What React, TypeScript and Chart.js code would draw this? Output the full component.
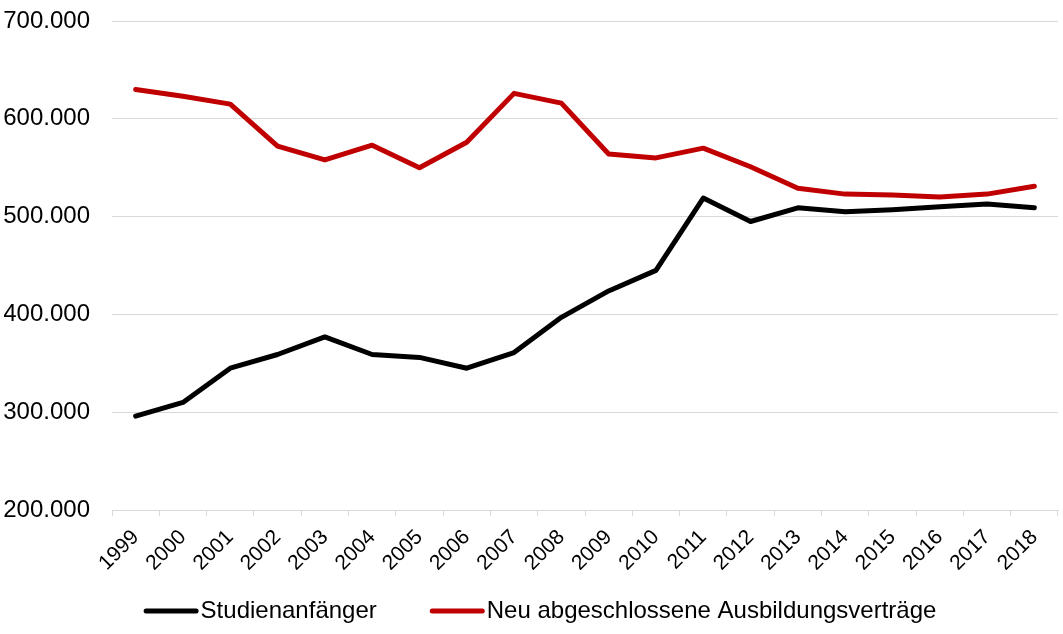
import React, { useEffect, useRef } from "react";
import { Chart, registerables } from "chart.js";

Chart.register(...registerables);

const years = ["1999","2000","2001","2002","2003","2004","2005","2006","2007","2008","2009","2010","2011","2012","2013","2014","2015","2016","2017","2018"];
const studienanfaenger = [296000, 310000, 345000, 359000, 377000, 359000, 356000, 345000, 361000, 397000, 424000, 445000, 519000, 495000, 509000, 505000, 507000, 510000, 513000, 509000];
const ausbildungsvertraege = [630000, 623000, 615000, 572000, 558000, 573000, 550000, 576000, 626000, 616000, 564000, 560000, 570000, 551000, 529000, 523000, 522000, 520000, 523000, 531000];
const seriesNames = ["Studienanfänger", "Neu abgeschlossene Ausbildungsverträge"];
const seriesColors = ["#000000", "#c00000"];

const W = 1063;
const H = 634;
const FONT = "'Liberation Sans', Arial, sans-serif";

const fmt = (v: number) => {
  const s = Math.round(v).toString();
  return s.replace(/\B(?=(\d{3})+(?!\d))/g, ".");
};

const legendPlugin = {
  id: "customLegend",
  afterDraw(chart: any) {
    const ctx = chart.ctx;
    ctx.save();
    ctx.font = `24px ${FONT}`;
    ctx.textBaseline = "middle";
    ctx.textAlign = "left";
    const lineLen = 55;
    const gap = 2;
    const itemGap = 53;
    const items = chart.data.datasets.map((d: any) => ({
      label: d.label,
      color: d.borderColor,
      w: ctx.measureText(d.label).width,
    }));
    const total = items.reduce((a: number, it: any) => a + lineLen + gap + it.w, 0) + itemGap * (items.length - 1);
    let x = 540 - total / 2;
    const y = 611;
    items.forEach((it: any) => {
      ctx.strokeStyle = it.color;
      ctx.lineWidth = 5;
      ctx.lineCap = "round";
      ctx.beginPath();
      ctx.moveTo(x + 2.5, y);
      ctx.lineTo(x + lineLen - 2.5, y);
      ctx.stroke();
      ctx.fillStyle = "#000000";
      ctx.fillText(it.label, x + lineLen + gap, y);
      x += lineLen + gap + it.w + itemGap;
    });
    ctx.restore();
  },
};

export default function App() {
  const ref = useRef<HTMLCanvasElement | null>(null);
  useEffect(() => {
    if (!ref.current) return;
    const chart = new Chart(ref.current, {
      type: "line",
      data: {
        labels: years,
        datasets: [
          {
            label: seriesNames[0],
            data: studienanfaenger,
            borderColor: seriesColors[0],
            backgroundColor: seriesColors[0],
            borderWidth: 5,
            pointRadius: 0,
            tension: 0,
            borderCapStyle: "round",
            borderJoinStyle: "round",
          },
          {
            label: seriesNames[1],
            data: ausbildungsvertraege,
            borderColor: seriesColors[1],
            backgroundColor: seriesColors[1],
            borderWidth: 5,
            pointRadius: 0,
            tension: 0,
            borderCapStyle: "round",
            borderJoinStyle: "round",
          },
        ],
      },
      options: {
        animation: false,
        responsive: false,
        maintainAspectRatio: false,
        layout: { padding: { top: 21, right: 5, bottom: 64, left: 4 } },
        plugins: {
          legend: { display: false },
          tooltip: { enabled: false },
        },
        scales: {
          x: {
            offset: true,
            grid: {
              offset: true,
              drawOnChartArea: false,
              drawTicks: true,
              tickLength: 6,
              color: "#d9d9d9",
              lineWidth: 1,
            },
            border: { display: true, color: "#d9d9d9", width: 1 },
            ticks: {
              autoSkip: false,
              minRotation: 45,
              maxRotation: 45,
              padding: 9,
              color: "#000000",
              font: { family: FONT, size: 21 },
            },
            afterFit: (scale: any) => {
              scale.height = 60;
              scale.paddingLeft = 0;
              scale.paddingRight = 0;
            },
          },
          y: {
            min: 200000,
            max: 700000,
            grid: { color: "#d9d9d9", lineWidth: 1, drawTicks: false },
            border: { display: false },
            ticks: {
              stepSize: 100000,
              padding: 22,
              color: "#000000",
              font: { family: FONT, size: 24 },
              callback: (v: any) => fmt(Number(v)),
            },
            afterFit: (scale: any) => {
              scale.width = 108;
              scale.paddingTop = 0;
              scale.paddingBottom = 0;
            },
          },
        },
      },
      plugins: [legendPlugin],
    });
    return () => chart.destroy();
  }, []);
  return (
    <div style={{ position: "fixed", left: 0, top: 0, width: W, height: H, background: "#fff" }}>
      <canvas ref={ref} width={W} height={H} style={{ width: W, height: H, display: "block" }} />
    </div>
  );
}
